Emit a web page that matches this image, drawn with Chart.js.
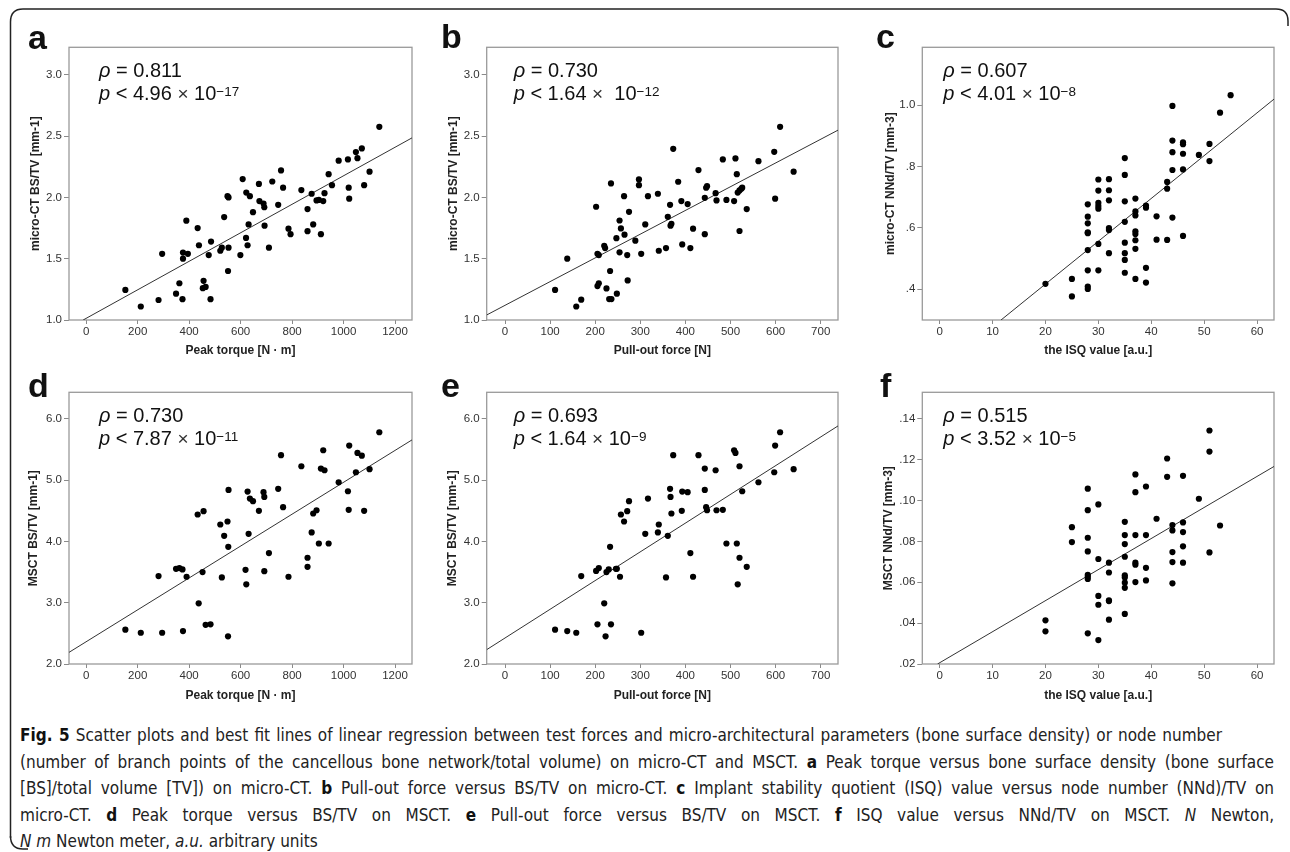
<!DOCTYPE html>
<html>
<head>
<meta charset="utf-8">
<script src="https://cdn.jsdelivr.net/npm/chart.js@4.4.1/dist/chart.umd.min.js"></script>
<style>
  html, body { margin: 0; padding: 0; background: #fff; }
  #fig { position: relative; width: 1290px; height: 852px; overflow: hidden; font-family: Arial, "Liberation Sans", sans-serif; }
  .panel { position: absolute; width: 430px; height: 360px; }
  .letter { position: absolute; font: bold 34px/34px Arial, "Liberation Sans", sans-serif; color: #111; }
  #caption { position: absolute; left: 20px; top: 722px; width: 1254px;
    font-family: "Liberation Sans Narrow", "DejaVu Sans Condensed", "Open Sans", sans-serif; font-stretch: condensed;
    font-size: 17px; line-height: 26.5px; color: #222; }
  #caption div { white-space: nowrap; }
  #caption .j { text-align: justify; text-align-last: justify; white-space: normal; }
  #caption b { color: #111; }
</style>
</head>
<body>
<div id="fig">
  <svg width="1290" height="852" style="position:absolute;left:0;top:0">
    <path d="M 10.5 838 L 10.5 22 Q 10.5 9 23 9 L 1276 9 Q 1288 9 1288 21 L 1288 26" fill="none" stroke="#222" stroke-width="1.5"/>
    <path d="M 10.5 836 Q 10.5 849 23 849 L 28 849" fill="none" stroke="#222" stroke-width="1.5"/>
  </svg>
  <div class="panel" style="left:0;top:0"><canvas id="ca" width="430" height="360"></canvas></div>
  <div class="panel" style="left:430px;top:0"><canvas id="cb" width="430" height="360"></canvas></div>
  <div class="panel" style="left:860px;top:0"><canvas id="cc" width="430" height="360"></canvas></div>
  <div class="panel" style="left:0;top:345px"><canvas id="cd" width="430" height="360"></canvas></div>
  <div class="panel" style="left:430px;top:345px"><canvas id="ce" width="430" height="360"></canvas></div>
  <div class="panel" style="left:860px;top:345px"><canvas id="cf" width="430" height="360"></canvas></div>
  <div class="letter" style="left:28px;top:20px">a</div>
  <div class="letter" style="left:441px;top:19px">b</div>
  <div class="letter" style="left:876px;top:19px">c</div>
  <div class="letter" style="left:28px;top:368px">d</div>
  <div class="letter" style="left:441px;top:368px">e</div>
  <div class="letter" style="left:880px;top:368px">f</div>
  <div id="caption">
    <div class="j" style="width:1202px"><b>Fig. 5</b> Scatter plots and best fit lines of linear regression between test forces and micro-architectural parameters (bone surface density) or node number</div>
    <div class="j">(number of branch points of the cancellous bone network/total volume) on micro-CT and MSCT. <b>a</b> Peak torque versus bone surface density (bone surface</div>
    <div class="j">[BS]/total volume [TV]) on micro-CT. <b>b</b> Pull-out force versus BS/TV on micro-CT. <b>c</b> Implant stability quotient (ISQ) value versus node number (NNd)/TV on</div>
    <div class="j">micro-CT. <b>d</b> Peak torque versus BS/TV on MSCT. <b>e</b> Pull-out force versus BS/TV on MSCT. <b>f</b> ISQ value versus NNd/TV on MSCT. <i>N</i> Newton,</div>
    <div><i>N m</i> Newton meter, <i>a.u.</i> arbitrary units</div>
  </div>
</div>
<script>
// tick values
var torqueTicks = [0, 200, 400, 600, 800, 1000, 1200];
var pullTicks = [0, 100, 200, 300, 400, 500, 600, 700];
var isqTicks = [0, 10, 20, 30, 40, 50, 60];
var ctBstvTicks = [1.0, 1.5, 2.0, 2.5, 3.0];
var ctBstvLabels = ['1.0', '1.5', '2.0', '2.5', '3.0'];
var ctNndTicks = [0.4, 0.6, 0.8, 1.0];
var ctNndLabels = ['.4', '.6', '.8', '1.0'];
var msBstvTicks = [2, 3, 4, 5, 6];
var msBstvLabels = ['2.0', '3.0', '4.0', '5.0', '6.0'];
var msNndTicks = [0.02, 0.04, 0.06, 0.08, 0.10, 0.12, 0.14];
var msNndLabels = ['.02', '.04', '.06', '.08', '.10', '.12', '.14'];

// a: peak torque vs micro-CT BS/TV
var torqueA = [152,212,281,295,349,362,374,376,376,389,395,433,438,456,453,464,476,485,483,521,527,536,549,553,553,551,599,608,621,622,627,631,636,648,671,673,689,692,693,710,723,746,757,765,786,794,836,860,860,876,882,895,904,912,921,926,942,955,981,1017,1020,1022,1048,1054,1071,1080,1101,1139];
var bstvA = [1.245,1.11,1.163,1.54,1.215,1.30,1.17,1.50,1.55,1.81,1.54,1.75,1.61,1.32,1.26,1.27,1.53,1.64,1.17,1.565,1.59,1.84,2.01,2.00,1.59,1.40,1.53,2.15,1.67,2.04,1.61,1.78,2.01,1.88,2.11,1.97,1.95,1.92,1.77,1.59,2.13,1.94,2.22,2.08,1.745,1.70,2.06,1.905,1.725,2.03,1.78,1.976,1.98,1.70,1.97,2.035,2.19,2.10,2.30,2.31,2.08,1.99,2.37,2.32,2.40,2.10,2.21,2.576];
var fitA = [{x: -12, y: 1.0}, {x: 1266, y: 2.486}];

// b: pull-out force vs micro-CT BS/TV
var pullB = [111,138,158,169,202,205,205,208,208,220,222,225,233,231,236,235,248,247,254,254,257,264,265,271,272,275,289,297,297,302,311,317,339,341,357,361,366,367,369,373,384,391,393,405,411,417,429,443,443,446,448,467,469,483,491,508,511,514,516,520,520,524,526,536,562,597,599,610,640];
var bstvB = [1.245,1.50,1.11,1.166,1.924,1.54,1.277,1.30,1.53,1.606,1.587,1.258,1.40,1.171,1.171,2.114,1.215,1.668,1.552,1.812,1.747,2.01,1.696,1.53,1.323,1.883,1.647,2.147,2.10,1.54,1.78,2.01,2.03,1.565,1.587,1.842,1.94,1.77,1.785,2.397,2.128,1.97,1.617,1.946,1.587,1.745,2.223,1.997,1.70,2.079,2.092,2.035,1.976,2.31,1.98,1.97,2.318,2.19,2.04,1.726,2.057,2.07,2.08,1.905,2.296,2.372,1.99,2.576,2.21];
var fitB = [{x: -40.6, y: 1.041}, {x: 738.4, y: 2.549}];

// c: ISQ vs micro-CT NNd/TV
var isqC = [20,25,25,28,28,28,28,28,28,28,28,28,30,30,30,30,30,30,30,32,32,32,32,32,32,35,35,35,35,35,35,35,35,37,37,37,37,37,37,37,37,39,39,39,39,41,41,43,43,43,44,44,44,44,44,46,46,46,46,46,49,51,51,53,55];
var nndC = [0.418,0.434,0.377,0.677,0.637,0.615,0.586,0.583,0.528,0.462,0.409,0.401,0.758,0.722,0.682,0.672,0.663,0.548,0.462,0.759,0.723,0.69,0.60,0.593,0.518,0.828,0.773,0.687,0.62,0.552,0.518,0.496,0.454,0.696,0.654,0.641,0.589,0.58,0.56,0.532,0.434,0.673,0.666,0.47,0.422,0.638,0.562,0.75,0.728,0.561,0.998,0.885,0.847,0.789,0.634,0.879,0.873,0.842,0.791,0.574,0.838,0.874,0.818,0.976,1.033];
var fitC = [{x: 11.6, y: 0.3}, {x: 63.2, y: 1.02}];

// d: peak torque vs MSCT BS/TV
var torqueD = [152,212,281,295,349,362,374,376,390,433,437,452,456,464,483,521,527,536,549,553,552,551,619,622,627,631,636,648,671,689,692,692,710,746,757,765,786,836,860,860,876,882,895,904,912,921,926,942,981,1017,1020,1022,1048,1054,1071,1080,1101,1139];
var bstvD = [2.56,2.51,3.435,2.51,3.554,3.565,3.543,2.538,3.424,4.44,2.99,3.50,4.495,2.64,2.647,4.277,3.413,4.092,4.326,4.842,3.913,2.451,3.538,3.30,4.815,4.125,4.70,4.658,4.50,4.804,4.728,3.516,3.81,4.859,5.408,4.56,3.424,5.228,3.734,3.587,4.147,4.457,4.51,3.967,5.19,5.489,5.163,3.967,4.967,4.82,4.516,5.565,5.13,5.446,5.40,4.50,5.18,5.783];
var fitD = [{x: -67, y: 2.19}, {x: 1266, y: 5.658}];

// e: pull-out force vs MSCT BS/TV
var pullE = [111,138,158,169,202,205,208,220,223,225,230,233,235,246,248,255,257,264,271,275,302,311,317,341,339,357,361,366,367,369,373,392,393,405,411,417,429,443,443,446,448,467,469,483,491,508,511,514,516,520,520,526,536,562,597,599,610,640];
var bstvE = [2.56,2.538,2.51,3.435,3.52,2.647,3.565,2.99,2.451,3.50,3.543,3.913,2.647,3.554,3.554,3.424,4.44,4.326,4.495,4.658,2.51,4.125,4.70,4.277,4.147,3.413,4.092,4.859,4.728,4.457,5.408,4.50,4.815,4.804,3.81,3.424,5.408,5.19,4.842,4.56,4.51,5.163,4.51,4.516,3.967,5.489,5.446,3.967,3.30,3.734,5.228,4.82,3.587,4.967,5.13,5.565,5.783,5.18];
var fitE = [{x: -40.6, y: 2.234}, {x: 738.4, y: 5.886}];

// f: ISQ vs MSCT NNd/TV
var isqF = [20,20,25,25,28,28,28,28,28,28,28,28,30,30,30,30,30,32,32,32,32,32,35,35,35,35,35,35,35,35,35,37,37,37,37,37,37,39,39,39,39,41,43,43,44,44,44,44,44,46,46,46,46,46,49,51,51,51,53];
var nndF = [0.0414,0.036,0.087,0.0797,0.1058,0.0953,0.0818,0.0751,0.0637,0.0627,0.0616,0.035,0.0981,0.0714,0.0533,0.049,0.0317,0.0696,0.0648,0.0511,0.0508,0.0417,0.0896,0.0831,0.0787,0.0725,0.0634,0.0624,0.0598,0.0573,0.0445,0.1128,0.1041,0.0831,0.0696,0.0686,0.0601,0.1069,0.0831,0.0671,0.0609,0.0911,0.1206,0.1116,0.088,0.0854,0.0748,0.0699,0.0595,0.1121,0.0893,0.0846,0.0776,0.0696,0.1009,0.1343,0.124,0.0746,0.0878];
var fitF = [{x: -0.4, y: 0.02}, {x: 63.2, y: 0.1167}];

var panels = [
  {id: 'ca', xs: torqueA, ys: bstvA, fit: fitA, x: [-67, 1266], y: [1.0, 3.225], xt: torqueTicks, yt: ctBstvTicks, yl: ctBstvLabels,
   xTitle: 'Peak torque [N \u00b7 m]', yTitle: 'micro-CT BS/TV [mm-1]', axisW: 69, right: 18, top: 47.3, bottom: 40, titlePad: 28.5,
   rho: '0.811', pv: '4.96', ex: '\u221217', gap: false, tx: 30},
  {id: 'cb', xs: pullB, ys: bstvB, fit: fitB, x: [-40.6, 738.4], y: [1.0, 3.225], xt: pullTicks, yt: ctBstvTicks, yl: ctBstvLabels,
   xTitle: 'Pull-out force [N]', yTitle: 'micro-CT BS/TV [mm-1]', axisW: 56.7, right: 22, top: 47.3, bottom: 40, titlePad: 16.5,
   rho: '0.730', pv: '1.64', ex: '\u221212', gap: true, tx: 27},
  {id: 'cc', xs: isqC, ys: nndC, fit: fitC, x: [-3.28, 63.2], y: [0.3, 1.189], xt: isqTicks, yt: ctNndTicks, yl: ctNndLabels,
   xTitle: 'the ISQ value [a.u.]', yTitle: 'micro-CT NNd/TV [mm-3]', axisW: 62.3, right: 16, top: 47.3, bottom: 40, titlePad: 23.5,
   rho: '0.607', pv: '4.01', ex: '\u22128', gap: false, tx: 21},
  {id: 'cd', xs: torqueD, ys: bstvD, fit: fitD, x: [-67, 1266], y: [2.0, 6.435], xt: torqueTicks, yt: msBstvTicks, yl: msBstvLabels,
   xTitle: 'Peak torque [N \u00b7 m]', yTitle: 'MSCT BS/TV [mm-1]', axisW: 69, right: 18, top: 47.3, bottom: 41, titlePad: 26.5,
   rho: '0.730', pv: '7.87', ex: '\u221211', gap: false, tx: 30},
  {id: 'ce', xs: pullE, ys: bstvE, fit: fitE, x: [-40.6, 738.4], y: [2.0, 6.435], xt: pullTicks, yt: msBstvTicks, yl: msBstvLabels,
   xTitle: 'Pull-out force [N]', yTitle: 'MSCT BS/TV [mm-1]', axisW: 56.7, right: 22, top: 47.3, bottom: 41, titlePad: 15.5,
   rho: '0.693', pv: '1.64', ex: '\u22129', gap: false, tx: 27},
  {id: 'cf', xs: isqF, ys: nndF, fit: fitF, x: [-3.28, 63.2], y: [0.02, 0.153], xt: isqTicks, yt: msNndTicks, yl: msNndLabels,
   xTitle: 'the ISQ value [a.u.]', yTitle: 'MSCT NNd/TV [mm-3]', axisW: 62.3, right: 16, top: 47.3, bottom: 41, titlePad: 21.5,
   rho: '0.515', pv: '3.52', ex: '\u22125', gap: false, tx: 21}
];

var FONT = 'Arial, "Liberation Sans", sans-serif';

// plot frame and the correlation text
var framePlugin = {
  id: 'frame',
  beforeDatasetsDraw: function(chart) {
    var a = chart.chartArea, c = chart.ctx;
    c.save();
    c.strokeStyle = '#9a9a9a';
    c.lineWidth = 1.3;
    c.strokeRect(a.left, a.top, a.right - a.left, a.bottom - a.top);
    c.restore();
  },
  afterDatasetsDraw: function(chart) {
    var p = chart.options.plugins.frame, a = chart.chartArea, c = chart.ctx;
    var x = a.left + p.tx, y1 = a.top + 30, y2 = a.top + 53;
    c.save();
    c.fillStyle = '#111';
    c.textBaseline = 'alphabetic';
    c.font = 'italic 20px ' + FONT;
    c.fillText('\u03c1', x, y1);
    var w = c.measureText('\u03c1').width;
    c.font = '20px ' + FONT;
    c.fillText(' = ' + p.rho, x + w, y1);
    c.font = 'italic 20px ' + FONT;
    c.fillText('p', x, y2);
    var xx = x + c.measureText('p').width;
    c.font = '20px ' + FONT;
    var s = ' < ' + p.pv + ' ';
    c.fillText(s, xx, y2); xx += c.measureText(s).width;
    c.fillStyle = '#333';
    c.font = '300 19px ' + FONT;
    c.fillText('\u00d7', xx, y2); xx += c.measureText('\u00d7').width;
    c.fillStyle = '#111';
    c.font = '20px ' + FONT;
    s = (p.gap ? '  ' : ' ') + '10';
    c.fillText(s, xx, y2); xx += c.measureText(s).width;
    c.font = '13.5px ' + FONT;
    c.fillText(p.ex, xx, y2 - 4.5);
    c.restore();
  }
};

panels.forEach(function(p) {
  var pts = p.xs.map(function(v, i) { return {x: v, y: p.ys[i]}; });
  new Chart(document.getElementById(p.id).getContext('2d'), {
    type: 'scatter',
    data: {
      datasets: [{
        data: pts,
        pointRadius: 3.1,
        pointHoverRadius: 3.1,
        pointBackgroundColor: '#000',
        pointBorderWidth: 0
      }, {
        type: 'line',
        data: p.fit,
        showLine: true,
        pointRadius: 0,
        borderColor: '#333',
        borderWidth: 1,
        fill: false
      }]
    },
    options: {
      responsive: false,
      animation: false,
      events: [],
      layout: { padding: { left: 0, top: p.top, right: p.right, bottom: 0 } },
      plugins: {
        legend: { display: false },
        tooltip: { enabled: false },
        frame: { rho: p.rho, pv: p.pv, ex: p.ex, gap: p.gap, tx: p.tx }
      },
      scales: {
        x: {
          type: 'linear',
          min: p.x[0], max: p.x[1],
          afterBuildTicks: function(s) { s.ticks = p.xt.map(function(v) { return {value: v}; }); },
          afterFit: function(s) { s.height = p.bottom; },
          ticks: { color: '#333', font: { family: FONT, size: 11.5 }, padding: 1, maxRotation: 0,
                   callback: function(v) { return String(v); } },
          grid: { drawOnChartArea: false, drawTicks: true, tickLength: 4, color: '#8a8a8a', lineWidth: 1 },
          border: { display: false },
          title: { display: true, text: p.xTitle, color: '#222', font: { family: FONT, size: 12, weight: 'bold' },
                   padding: { top: 0, bottom: 2 } }
        },
        y: {
          type: 'linear',
          min: p.y[0], max: p.y[1],
          afterBuildTicks: function(s) { s.ticks = p.yt.map(function(v) { return {value: v}; }); },
          afterFit: function(s) { s.width = p.axisW; },
          ticks: { color: '#333', font: { family: FONT, size: 11.5 }, padding: 2,
                   callback: function(v, i) { return p.yl[i]; } },
          grid: { drawOnChartArea: false, drawTicks: true, tickLength: 5, color: '#8a8a8a', lineWidth: 1 },
          border: { display: false },
          title: { display: true, text: p.yTitle, color: '#222', font: { family: FONT, size: 12, weight: 'bold' },
                   padding: { top: p.titlePad, bottom: 0 } }
        }
      }
    },
    plugins: [framePlugin]
  });
});
</script>
</body>
</html>
